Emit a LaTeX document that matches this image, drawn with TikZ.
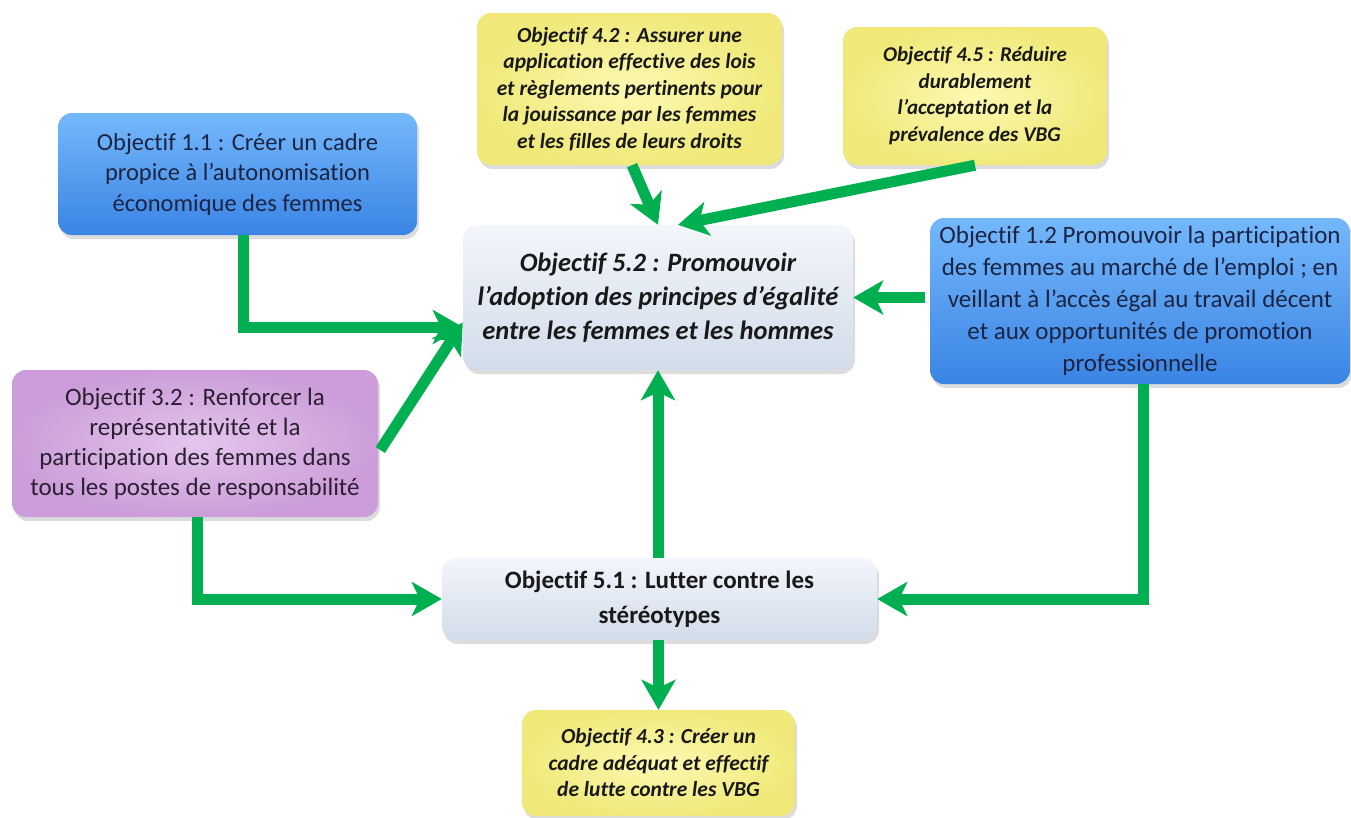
\documentclass[tikz,border=0pt]{standalone}
\usepackage{fontspec}
\setmainfont{Carlito}[Ligatures=NoCommon]
\usetikzlibrary{arrows.meta,shadows}

\definecolor{arrgreen}{HTML}{00B050}
\definecolor{blueTop}{HTML}{74B8FB}
\definecolor{blueMid}{HTML}{4E9CF0}
\definecolor{blueBot}{HTML}{3A84E4}
\definecolor{blueTxt}{HTML}{1C2444}
\definecolor{yelIn}{HTML}{FCF9B2}
\definecolor{yelOut}{HTML}{F0E97A}
\definecolor{purIn}{HTML}{E4C6EC}
\definecolor{purOut}{HTML}{CC9DDA}
\definecolor{purTxt}{HTML}{2A2030}
\definecolor{paleTop}{HTML}{F3F6FB}
\definecolor{paleBot}{HTML}{D2DCEA}

\begin{document}
\begin{tikzpicture}[x=1pt,y=-1pt,
  box/.style={rounded corners=14pt, inner sep=0pt, align=center, anchor=center,
    drop shadow={shadow xshift=2pt, shadow yshift=-4pt, opacity=0.28}},
  bluebox/.style={box, top color=blueTop, middle color=blueMid, bottom color=blueBot,
    text=blueTxt, font=\fontsize{24.5}{30.5}\selectfont},
  yelbox/.style={box, inner color=yelIn, outer color=yelOut, text=black!90,
    font=\fontsize{21.5}{26.5}\selectfont\bfseries\itshape},
  purbox/.style={box, inner color=purIn, outer color=purOut, text=purTxt,
    font=\fontsize{25}{30}\selectfont},
  palebox/.style={box, top color=paleTop, bottom color=paleBot, text=black!90},
  arr/.style={draw=arrgreen, line width=11pt,
    -{Stealth[length=30pt, width=34pt, inset=8pt]}}
]
\useasboundingbox (0,0) rectangle (1351,817);

% objective boxes
\node[yelbox, minimum width=305pt, minimum height=152pt] (o42) at (629.5,89)
  {Objectif 4.2 : Assurer une\\application effective des lois\\et règlements pertinents pour\\la jouissance par les femmes\\et les filles de leurs droits};
\node[yelbox, minimum width=264pt, minimum height=138pt,
  font=\fontsize{21}{26.5}\selectfont\bfseries\itshape] (o45) at (975,96)
  {Objectif 4.5 : Réduire\\durablement\\l’acceptation et la\\prévalence des VBG};
\node[bluebox, minimum width=359pt, minimum height=122pt] (o11) at (237.5,174)
  {Objectif 1.1 : Créer un cadre\\propice à l’autonomisation\\économique des femmes};
\node[palebox, minimum width=390pt, minimum height=145pt,
  font=\fontsize{26.5}{34}\selectfont\bfseries\itshape] (o52) at (658,297.5)
  {Objectif 5.2 : Promouvoir\\l’adoption des principes d’égalité\\entre les femmes et les hommes};
\node[bluebox, minimum width=420pt, minimum height=166pt,
  font=\fontsize{25}{32}\selectfont] (o12) at (1140,301)
  {Objectif 1.2 Promouvoir la participation\\des femmes au marché de l’emploi ; en\\veillant à l’accès égal au travail décent\\et aux opportunités de promotion\\professionnelle};
\node[purbox, minimum width=366pt, minimum height=147pt] (o32) at (195,443.5)
  {Objectif 3.2 : Renforcer la\\représentativité et la\\participation des femmes dans\\tous les postes de responsabilité};
\node[palebox, minimum width=435pt, minimum height=82pt,
  font=\fontsize{25}{35}\selectfont\bfseries] (o51) at (659.5,599)
  {Objectif 5.1 : Lutter contre les\\stéréotypes};
\node[yelbox, minimum width=273pt, minimum height=106pt] (o43) at (658.5,763)
  {Objectif 4.3 : Créer un\\cadre adéquat et effectif\\de lutte contre les VBG};

% connectors
\draw[arr] ([xshift=5.5pt]o11.south) |- ([yshift=-29.5pt]o52.west);
\draw[arr] ([xshift=2pt,yshift=-6.5pt]o32.east) -- ([yshift=-25pt]o52.west);
\draw[arr] ([xshift=2.5pt]o42.south) -- (o52.north);
\draw[arr] (o45.south) -- ([xshift=20pt]o52.north);
\draw[arr] ([xshift=-5pt]o12.west |- o52.east) -- (o52.east);
\draw[arr] (o52.south |- o51.north) -- (o52.south);
\draw[arr] ([xshift=2pt]o32.south) |- (o51.west);
\draw[arr] ([xshift=3pt]o12.south) |- (o51.east);
\draw[arr] (o43.north |- o51.south) -- (o43.north);
\end{tikzpicture}
\end{document}
